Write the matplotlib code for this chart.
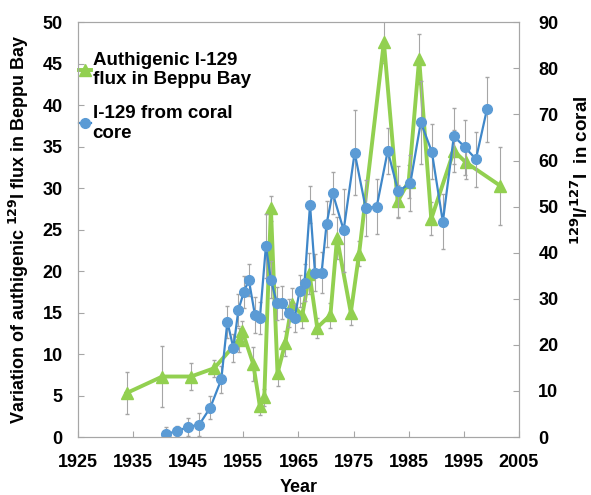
import matplotlib
matplotlib.use("Agg")
import matplotlib.pyplot as plt
from matplotlib.lines import Line2D

plt.rcParams["font.family"] = ["Liberation Sans", "DejaVu Sans"]
plt.rcParams["font.weight"] = "bold"

# Authigenic I-129 flux in Beppu Bay (left axis)
flux_year = [1933.8, 1940.3, 1945.5, 1949.7, 1954.2, 1954.8, 1956.8, 1958.0, 1958.8,
             1960.0, 1961.2, 1962.6, 1963.8, 1965.7, 1967.0, 1968.4, 1970.8, 1972.0,
             1974.5, 1976.0, 1980.5, 1983.0, 1985.0, 1986.9, 1989.1, 1993.2, 1995.4,
             2001.6]
flux_val = [5.3, 7.3, 7.3, 8.3, 11.7, 12.8, 8.8, 3.7, 4.8,
            27.6, 7.7, 11.3, 16.0, 14.7, 19.7, 13.2, 14.7, 24.0,
            15.0, 22.1, 47.6, 28.4, 30.8, 45.6, 26.3, 34.5, 33.1,
            30.3]
flux_err = [2.5, 3.7, 1.6, 1.0, 1.5, 1.2, 2.0, 1.0, 1.0,
            1.5, 1.5, 1.5, 2.0, 1.5, 2.5, 1.2, 1.5, 2.5,
            1.5, 1.5, 2.5, 2.0, 2.0, 3.0, 2.0, 2.5, 2.0,
            4.7]

# 129I/127I in coral core (right axis)
coral_year = [1941.0, 1942.9, 1945.0, 1947.0, 1949.0, 1951.0, 1952.1, 1953.2, 1954.1,
              1955.1, 1956.0, 1957.1, 1958.0, 1959.1, 1960.0, 1961.1, 1962.0, 1963.2,
              1964.3, 1965.2, 1966.1, 1967.1, 1968.0, 1969.2, 1970.1, 1971.2, 1973.2,
              1975.2, 1977.2, 1979.2, 1981.2, 1983.1, 1985.3, 1987.2, 1989.2, 1991.2,
              1993.2, 1995.2, 1997.2, 1999.2]
coral_val = [0.65, 1.3, 2.2, 2.7, 6.4, 12.5, 25.0, 19.3, 27.6,
             31.5, 34.1, 26.5, 25.8, 41.5, 34.1, 29.0, 29.2, 26.9,
             25.8, 31.7, 33.5, 50.4, 35.7, 35.7, 46.2, 53.0, 44.9,
             61.7, 49.7, 50.0, 62.1, 53.3, 55.1, 68.3, 61.9, 46.7,
             65.3, 62.9, 60.3, 71.1]
coral_err = [1.5, 1.0, 2.0, 2.5, 2.5, 3.0, 3.5, 3.0, 3.5,
             3.5, 3.5, 4.0, 3.5, 7.0, 4.0, 3.5, 3.5, 3.0,
             3.0, 3.5, 4.0, 4.0, 4.0, 4.5, 5.0, 4.5, 9.0,
             9.2, 6.0, 6.0, 5.0, 5.5, 6.0, 9.0, 6.0, 6.0,
             6.0, 6.0, 6.0, 7.0]

GREEN = "#92D050"
BLUE_LINE = "#3F87C9"
BLUE_MARK = "#5B9BD5"
GRAY = "#A6A6A6"
FS = 13

fig = plt.figure(figsize=(5.91, 4.95), dpi=100)
ax = fig.add_axes([0.132, 0.117, 0.746, 0.838])
ax2 = ax.twinx()

ax.errorbar(flux_year, flux_val, yerr=flux_err, color=GREEN, lw=2.8,
            marker="^", ms=8, mfc=GREEN, mec=GREEN, ecolor=GRAY,
            elinewidth=0.8, capsize=1.5)
ax2.errorbar(coral_year, coral_val, yerr=coral_err, color=BLUE_LINE, lw=1.6,
             marker="o", ms=7, mfc=BLUE_MARK, mec=BLUE_MARK, ecolor=GRAY,
             elinewidth=0.8, capsize=1.5)

ax.set_xlim(1925, 2005)
ax.set_ylim(0, 50)
ax2.set_ylim(0, 90)
ax.set_xticks(range(1925, 2006, 10))
ax.set_yticks(range(0, 51, 5))
ax2.set_yticks(range(0, 91, 10))

for a in (ax, ax2):
    for s in a.spines.values():
        s.set_color("#A6A6A6")
    a.tick_params(direction="in", length=4, color="#A6A6A6", labelsize=FS)
    for lab in a.get_xticklabels() + a.get_yticklabels():
        lab.set_fontweight("bold")
ax.tick_params(axis="x", pad=12)
ax.tick_params(axis="y", pad=11)
ax2.tick_params(axis="y", pad=14)

ax.set_xlabel("Year", fontsize=FS, fontweight="bold", labelpad=6)
ax.set_ylabel("Variation of authigenic $^{\\mathbf{129}}$I flux in Beppu Bay",
              fontsize=FS, fontweight="bold", labelpad=8)
fig.text(0.984, 0.655, "$^{\\mathbf{129}}$I/$^{\\mathbf{127}}$I  in coral",
         rotation=90, ha="center", va="center", fontsize=FS + 0.5, fontweight="bold")

handles = [
    Line2D([], [], color=GREEN, lw=2.8, marker="^", ms=8),
    Line2D([], [], color=BLUE_LINE, lw=1.6, marker="o", ms=7, mfc=BLUE_MARK, mec=BLUE_MARK),
]
labels = ["Authigenic I-129\nflux in Beppu Bay", "I-129 from coral\ncore"]
ax.legend(handles, labels, loc="upper left", bbox_to_anchor=(-0.035, 0.97),
          frameon=False, handlelength=0.6, handletextpad=0.1,
          labelspacing=0.9, prop={"weight": "bold", "size": 13.5})

fig.savefig("out.png", dpi=100)
